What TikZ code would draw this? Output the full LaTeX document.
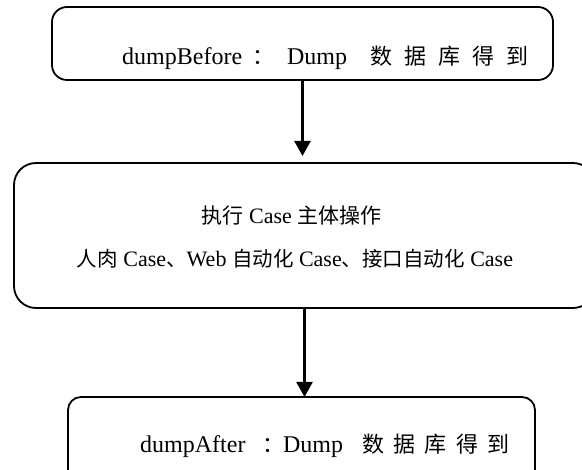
\documentclass[tikz,border=0pt]{standalone}
\usepackage{fontspec}
\setmainfont{Liberation Serif}
\newfontfamily\cjk{Noto Sans CJK SC}
\usetikzlibrary{arrows.meta}
\newcommand{\cjkbig}[1]{{\cjk\fontsize{22}{26}\selectfont #1}}
\newcommand{\cjkmid}[1]{{\cjk\fontsize{21}{25}\selectfont #1}}
\newcommand{\cjksml}[1]{{\cjk\fontsize{20.5}{25}\selectfont #1}}
\begin{document}
\begin{tikzpicture}[x=1pt,y=-1pt,
  box/.style={draw, line width=1.8pt, inner sep=0pt, outer sep=0pt},
  conn/.style={line width=2.5pt, -{Triangle[width=16pt,length=15pt]}},
  txtbig/.style={inner sep=0pt, anchor=base west, font=\fontsize{24}{28}\selectfont},
  txtmid/.style={inner sep=0pt, anchor=base, font=\fontsize{22}{26}\selectfont},
  ]
\useasboundingbox (0,0) rectangle (582,470);
\clip (0,0) rectangle (582,470);
\node[box, rounded corners=15pt, minimum width=501pt, minimum height=73pt] (top) at (302.5,43.5) {};
\node[box, rounded corners=22pt, minimum width=581pt, minimum height=145pt] (mid) at (304.5,235.5) {};
\node[box, rounded corners=13pt, minimum width=467pt, minimum height=100pt] (bot) at (301.5,447) {};
\node[txtbig] (t1) at (122,65) {dumpBefore\hspace{10pt}\cjkbig{：}\hspace{13pt}Dump\hspace{23pt}\cjkbig{数\hspace{12pt}据\hspace{12pt}库\hspace{12pt}得\hspace{12pt}到}};
\node[txtmid] (m1) at (291.5,224) {\cjkmid{执行} Case \cjkmid{主体操作}};
\node[txtmid] (m2) at (295,267) {\cjksml{人肉} Case\cjksml{、}Web \cjksml{自动化} Case\cjksml{、接口自动化} Case};
\node[txtbig] (b1) at (140,453) {dumpAfter\hspace{17pt}\cjkbig{：}\hspace{-1.5pt}Dump\hspace{19pt}\cjkbig{数\hspace{9.5pt}据\hspace{9.5pt}库\hspace{9.5pt}得\hspace{9.5pt}到}};
\draw[conn, shorten >=7pt] (top.south) -- (top.south |- mid.north);
\draw[conn] (mid.south) -- (mid.south |- bot.north);
\end{tikzpicture}
\end{document}
